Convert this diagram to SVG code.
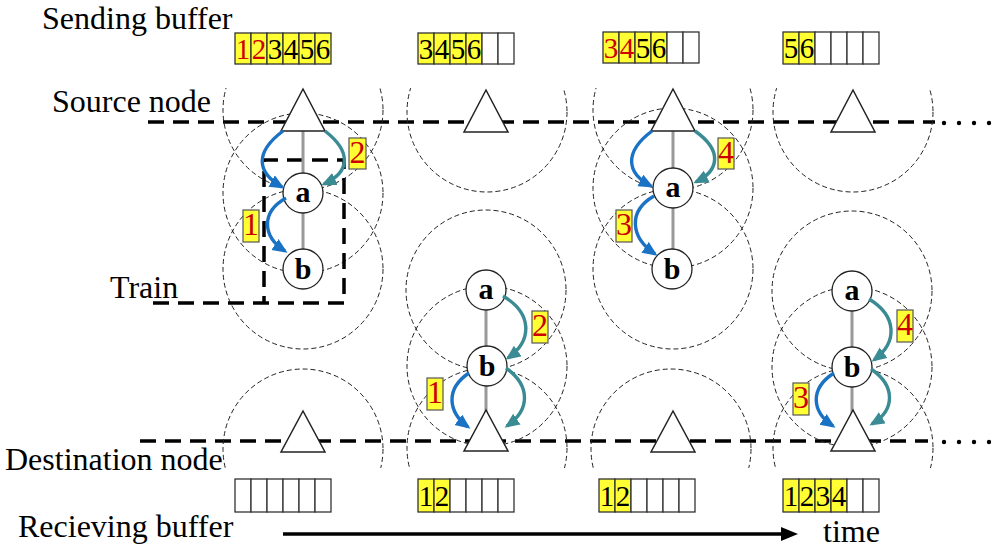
<svg xmlns="http://www.w3.org/2000/svg" width="1000" height="556" viewBox="0 0 1000 556">
<style>
text{font-family:"Liberation Serif","Times New Roman",serif}
.lbl{font-size:32px;fill:#000}
.dig{font-size:29px;text-anchor:middle}
.red{fill:#cc0000}
.y{fill:#ffff33;stroke:#333;stroke-width:1.3}
.w{fill:#fff;stroke:#333;stroke-width:1.3}
.rng{fill:none;stroke:#222;stroke-width:1;stroke-dasharray:5 3}
.tri{fill:#fff;stroke:#222;stroke-width:1.5}
.nd{fill:#fff;stroke:#222;stroke-width:1.3}
.nt{font-size:30px;font-weight:bold;text-anchor:middle}
.link{stroke:#999;stroke-width:3}
.bl{fill:none;stroke:#1a72c4;stroke-width:3.4;marker-end:url(#ab)}
.tl{fill:none;stroke:#3a8b93;stroke-width:3.4;marker-end:url(#at)}
.tag{fill:#ffff33;stroke:#555;stroke-width:1.2}
.tagt{font-size:32px;fill:#cc0000;text-anchor:middle}
.bd{fill:none;stroke:#000;stroke-width:3.5;stroke-dasharray:16 9}
</style>
<defs>
<marker id="ab" markerUnits="userSpaceOnUse" markerWidth="16" markerHeight="14" refX="12" refY="6.5" orient="auto"><path d="M0,0 L15,6.5 L0,13 z" fill="#1a72c4"/></marker>
<marker id="at" markerUnits="userSpaceOnUse" markerWidth="16" markerHeight="14" refX="12" refY="6.5" orient="auto"><path d="M0,0 L15,6.5 L0,13 z" fill="#3a8b93"/></marker>
<clipPath id="cp"><rect x="0" y="88" width="1000" height="380"/></clipPath>
</defs>
<rect width="1000" height="556" fill="#fff"/>

<g id="labels">
<text class="lbl" x="42" y="29">Sending buffer</text>
<text class="lbl" x="52" y="112">Source node</text>
<text class="lbl" x="110" y="298">Train</text>
<text class="lbl" x="5" y="470">Destination node</text>
<text class="lbl" x="18" y="537">Recieving buffer</text>
<text class="lbl" x="823" y="542">time</text>
</g>

<g id="lines">
<line class="bd" x1="148" y1="122" x2="935" y2="122"/>
<line class="bd" x1="140" y1="441" x2="928" y2="441"/>
<g fill="#000">
<circle cx="944" cy="123" r="2.2"/><circle cx="959" cy="123" r="2.2"/><circle cx="974" cy="123" r="2.2"/><circle cx="989" cy="123" r="2.2"/>
<circle cx="944" cy="442" r="2.2"/><circle cx="959" cy="442" r="2.2"/><circle cx="974" cy="442" r="2.2"/><circle cx="989" cy="442" r="2.2"/>
</g>
</g>

<g id="ranges" clip-path="url(#cp)">
<circle class="rng" cx="303" cy="110" r="80"/>
<circle class="rng" cx="303" cy="193" r="80"/>
<circle class="rng" cx="303" cy="269" r="80"/>
<circle class="rng" cx="303" cy="449" r="80"/>
<circle class="rng" cx="487" cy="112" r="80"/>
<circle class="rng" cx="486" cy="290" r="80"/>
<circle class="rng" cx="487" cy="366" r="80"/>
<circle class="rng" cx="487" cy="448" r="80"/>
<circle class="rng" cx="673" cy="110" r="80"/>
<circle class="rng" cx="673" cy="188" r="80"/>
<circle class="rng" cx="673" cy="269" r="80"/>
<circle class="rng" cx="671" cy="449" r="80"/>
<circle class="rng" cx="853" cy="112" r="80"/>
<circle class="rng" cx="852" cy="291" r="80"/>
<circle class="rng" cx="852" cy="367" r="80"/>
<circle class="rng" cx="853" cy="448" r="80"/>
</g>

<g id="train">
<path d="M153,303 H344 V160 H264 V303" class="bd"/>
</g>

<g id="links">
<line class="link" x1="303" y1="128" x2="303" y2="269"/>
<line class="link" x1="486" y1="290" x2="486" y2="430"/>
<line class="link" x1="673" y1="128" x2="673" y2="269"/>
<line class="link" x1="852" y1="291" x2="852" y2="430"/>
</g>

<g id="src1"><polygon class="tri" points="303,89 281,131 325,131"/></g>
<g id="src2"><polygon class="tri" points="486,90 464,132 508,132"/></g>
<g id="src3"><polygon class="tri" points="673,89 651,131 695,131"/></g>
<g id="src4"><polygon class="tri" points="853,90 831,132 875,132"/></g>
<g id="dst1"><polygon class="tri" points="303,411 281,452 325,452"/></g>
<g id="dst2"><polygon class="tri" points="486,410 464,451 508,451"/></g>
<g id="dst3"><polygon class="tri" points="673,411 651,452 695,452"/></g>
<g id="dst4"><polygon class="tri" points="853,410 831,451 875,451"/></g>

<g id="a1"><circle class="nd" cx="303" cy="193" r="20"/><text class="nt" x="303" y="202">a</text></g>
<g id="b1"><circle class="nd" cx="303" cy="269" r="20"/><text class="nt" x="303" y="279">b</text></g>
<g id="a2"><circle class="nd" cx="486" cy="290" r="20"/><text class="nt" x="486" y="299">a</text></g>
<g id="b2"><circle class="nd" cx="487" cy="366" r="20"/><text class="nt" x="487" y="376">b</text></g>
<g id="a3"><circle class="nd" cx="673" cy="188" r="20"/><text class="nt" x="673" y="197">a</text></g>
<g id="b3"><circle class="nd" cx="672" cy="269" r="20"/><text class="nt" x="672" y="279">b</text></g>
<g id="a4"><circle class="nd" cx="852" cy="291" r="20"/><text class="nt" x="852" y="300">a</text></g>
<g id="b4"><circle class="nd" cx="852" cy="367" r="20"/><text class="nt" x="852" y="377">b</text></g>

<g id="transfers">
<path class="bl" d="M283,131 C255,152 256,172 282,187"/>
<path class="tl" d="M325,131 C352,152 350,172 324,184"/>
<path class="bl" d="M286,198 C261,212 262,236 285,251"/>
<path class="bl" d="M652,131 C624,152 626,173 651,186"/>
<path class="tl" d="M695,131 C722,150 720,170 696,182"/>
<path class="bl" d="M654,196 C628,211 630,237 655,254"/>
<path class="tl" d="M503,296 C532,313 533,340 508,358"/>
<path class="bl" d="M469,373 C445,389 448,412 468,427"/>
<path class="tl" d="M506,368 C531,386 530,410 507,426"/>
<path class="tl" d="M869,299 C897,316 898,342 874,360"/>
<path class="bl" d="M834,373 C809,389 812,412 833,426"/>
<path class="tl" d="M871,369 C896,386 895,410 872,424"/>
</g>

<g id="tags">
<rect class="tag" x="349" y="138" width="17" height="31"/><text class="tagt" x="357.5" y="163">2</text>
<rect class="tag" x="243" y="210" width="16" height="32"/><text class="tagt" x="251" y="235">1</text>
<rect class="tag" x="718" y="138" width="16" height="31"/><text class="tagt" x="726" y="163">4</text>
<rect class="tag" x="616" y="210" width="16" height="32"/><text class="tagt" x="624" y="235">3</text>
<rect class="tag" x="532" y="311" width="16" height="32"/><text class="tagt" x="540" y="336">2</text>
<rect class="tag" x="427" y="378" width="16" height="32"/><text class="tagt" x="435" y="403">1</text>
<rect class="tag" x="897" y="310" width="16" height="32"/><text class="tagt" x="905" y="335">4</text>
<rect class="tag" x="793" y="383" width="16" height="32"/><text class="tagt" x="801" y="408">3</text>
</g>

<g id="sendbuf1">
<rect class="y" x="235" y="33" width="16" height="31"/><rect class="y" x="251" y="33" width="16" height="31"/><rect class="y" x="267" y="33" width="16" height="31"/><rect class="y" x="283" y="33" width="16" height="31"/><rect class="y" x="299" y="33" width="16" height="31"/><rect class="y" x="315" y="33" width="16" height="31"/>
<text class="dig red" x="243" y="59">1</text><text class="dig red" x="259" y="59">2</text><text class="dig" x="275" y="59">3</text><text class="dig" x="291" y="59">4</text><text class="dig" x="307" y="59">5</text><text class="dig" x="323" y="59">6</text>
</g>
<g id="sendbuf2">
<rect class="y" x="418" y="33" width="16" height="31"/><rect class="y" x="434" y="33" width="16" height="31"/><rect class="y" x="450" y="33" width="16" height="31"/><rect class="y" x="466" y="33" width="16" height="31"/><rect class="w" x="482" y="33" width="16" height="31"/><rect class="w" x="498" y="33" width="16" height="31"/>
<text class="dig" x="426" y="59">3</text><text class="dig" x="442" y="59">4</text><text class="dig" x="458" y="59">5</text><text class="dig" x="474" y="59">6</text>
</g>
<g id="sendbuf3">
<rect class="y" x="603" y="32" width="16" height="31"/><rect class="y" x="619" y="32" width="16" height="31"/><rect class="y" x="635" y="32" width="16" height="31"/><rect class="y" x="651" y="32" width="16" height="31"/><rect class="w" x="667" y="32" width="16" height="31"/><rect class="w" x="683" y="32" width="16" height="31"/>
<text class="dig red" x="611" y="58">3</text><text class="dig red" x="627" y="58">4</text><text class="dig" x="643" y="58">5</text><text class="dig" x="659" y="58">6</text>
</g>
<g id="sendbuf4">
<rect class="y" x="783" y="32" width="16" height="32"/><rect class="y" x="799" y="32" width="16" height="32"/><rect class="w" x="815" y="32" width="16" height="32"/><rect class="w" x="831" y="32" width="16" height="32"/><rect class="w" x="847" y="32" width="16" height="32"/><rect class="w" x="863" y="32" width="16" height="32"/>
<text class="dig" x="791" y="58">5</text><text class="dig" x="807" y="58">6</text>
</g>

<g id="recvbuf1">
<rect class="w" x="235" y="479" width="16" height="33"/><rect class="w" x="251" y="479" width="16" height="33"/><rect class="w" x="267" y="479" width="16" height="33"/><rect class="w" x="283" y="479" width="16" height="33"/><rect class="w" x="299" y="479" width="16" height="33"/><rect class="w" x="315" y="479" width="16" height="33"/>
</g>
<g id="recvbuf2">
<rect class="y" x="418" y="479" width="16" height="33"/><rect class="y" x="434" y="479" width="16" height="33"/><rect class="w" x="450" y="479" width="16" height="33"/><rect class="w" x="466" y="479" width="16" height="33"/><rect class="w" x="482" y="479" width="16" height="33"/><rect class="w" x="498" y="479" width="16" height="33"/>
<text class="dig" x="426" y="506">1</text><text class="dig" x="442" y="506">2</text>
</g>
<g id="recvbuf3">
<rect class="y" x="599" y="479" width="16" height="33"/><rect class="y" x="615" y="479" width="16" height="33"/><rect class="w" x="631" y="479" width="16" height="33"/><rect class="w" x="647" y="479" width="16" height="33"/><rect class="w" x="663" y="479" width="16" height="33"/><rect class="w" x="679" y="479" width="16" height="33"/>
<text class="dig" x="607" y="506">1</text><text class="dig" x="623" y="506">2</text>
</g>
<g id="recvbuf4">
<rect class="y" x="783" y="479" width="16" height="33"/><rect class="y" x="799" y="479" width="16" height="33"/><rect class="y" x="815" y="479" width="16" height="33"/><rect class="y" x="831" y="479" width="16" height="33"/><rect class="w" x="847" y="479" width="16" height="33"/><rect class="w" x="863" y="479" width="16" height="33"/>
<text class="dig" x="791" y="506">1</text><text class="dig" x="807" y="506">2</text><text class="dig" x="823" y="506">3</text><text class="dig" x="839" y="506">4</text>
</g>

<g id="timeaxis">
<line x1="283" y1="534" x2="784" y2="534" stroke="#000" stroke-width="3.5"/>
<polygon points="781,527 798,534 781,541" fill="#000"/>
</g>
</svg>
